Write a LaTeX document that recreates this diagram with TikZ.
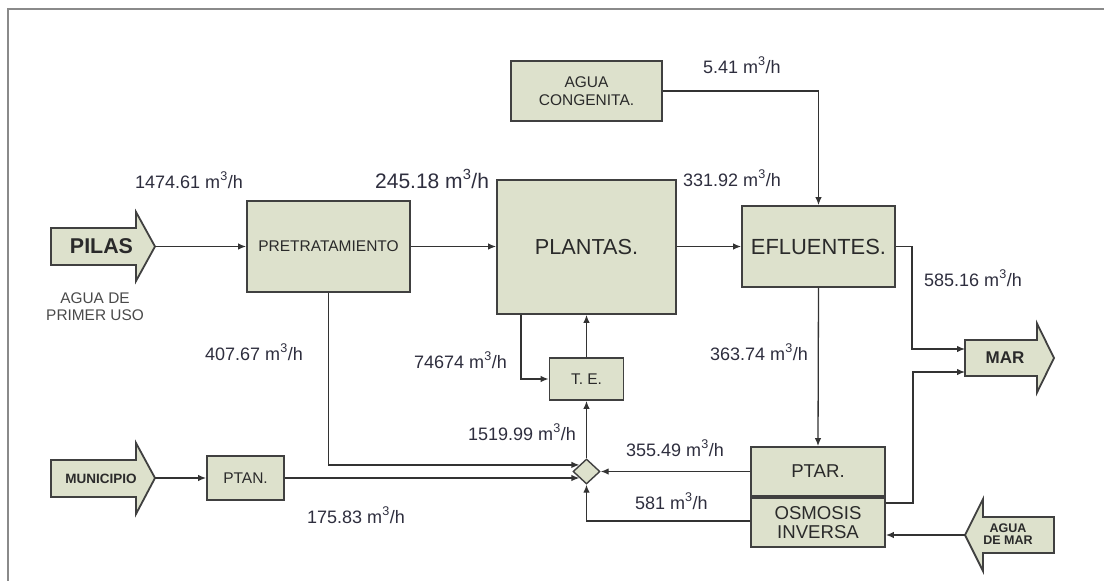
\documentclass[tikz,border=0pt]{standalone}
\usepackage{fontspec}
\setmainfont{Liberation Sans}
\usetikzlibrary{arrows.meta,shapes.geometric,calc}
\definecolor{boxfill}{HTML}{DDE1CC}
\definecolor{boxline}{HTML}{404040}
\definecolor{lblcol}{HTML}{2E2E3E}
\definecolor{txtcol}{HTML}{2A2A2A}
\definecolor{framecol}{HTML}{8A8A8A}
\newcommand{\fs}[1]{\fontsize{#1}{#1}\selectfont}
\newcommand{\mh}{m\textsuperscript{\raisebox{0.15em}{3}}/h}
\tikzset{
  box/.style={draw=boxline, line width=1.8pt, fill=boxfill, inner sep=0pt,
    text=txtcol, align=center},
  bigarrow/.style={draw=boxline, line width=1.8pt, fill=boxfill, line join=miter},
  flow/.style={draw=black!80, line width=1.3pt, -{Latex[length=8pt,width=6.5pt]}},
  lbl/.style={font=\fs{18}, text=lblcol, inner sep=0pt, anchor=west},
  small/.style={font=\fs{15.5}},
  large/.style={font=\fs{21.7}},
}
\begin{document}
\begin{tikzpicture}[x=1pt,y=-1pt]
\useasboundingbox (0,0) rectangle (1104,581);
\fill[white] (0,0) rectangle (1104,581);
% frame
\draw[framecol, line width=2.6pt] (8,581) -- (8,9) -- (1104,9);

% big arrows
\draw[bigarrow] (51,228) -- (136,228) -- (136,212) -- (155,246.5) -- (136,281) -- (136,265) -- (51,265) -- cycle;
\node[font=\fs{21.4}\bfseries, text=txtcol] (pilas) at (101.5,246.5) {PILAS};
\coordinate (pilastip) at (155,246.5);
\node[font=\fs{15.4}, text=txtcol!85, align=center, inner sep=0pt] (primer) at (95,306.5)
  {AGUA DE\\[1pt]PRIMER USO};

\draw[bigarrow] (51,460) -- (136,460) -- (136,443) -- (155,478) -- (136,514) -- (136,497) -- (51,497) -- cycle;
\node[font=\fs{13.5}\bfseries, text=txtcol] (muni) at (101,478.5) {MUNICIPIO};
\coordinate (munitip) at (155,478);

\draw[bigarrow] (965,340) -- (1037,340) -- (1037,323.5) -- (1054,358) -- (1037,392.5) -- (1037,376) -- (965,376) -- cycle;
\node[font=\fs{17}\bfseries, text=txtcol] (mar) at (1005,358) {MAR};
\coordinate (mar1) at (965,349);
\coordinate (mar2) at (965,372);

\draw[bigarrow] (1054,517) -- (983,517) -- (983,499) -- (965,535) -- (983,571) -- (983,553) -- (1054,553) -- cycle;
\node[font=\fs{12.5}\bfseries, text=txtcol, align=center, inner sep=0pt] (adm) at (1008,534) {AGUA\\DE MAR};
\coordinate (admtip) at (965,535);

% boxes
\node[box, small, minimum width=163pt, minimum height=91pt] (pre) at (328.5,246.5) {PRETRATAMIENTO};
\node[box, large, minimum width=179pt, minimum height=134pt] (plan) at (586.5,247) {PLANTAS.};
\node[box, large, font=\fs{21.9}, minimum width=153pt, minimum height=81pt] (efl) at (818.5,246.5) {EFLUENTES.};
\node[box, small, minimum width=151pt, minimum height=60pt] (cong) at (586.5,91) {AGUA\\[2pt]CONGENITA.};
\node[box, small, minimum width=74pt, minimum height=42pt] (te) at (586.5,379) {T. E.};
\node[box, small, minimum width=77pt, minimum height=44pt] (ptan) at (245.5,478) {PTAN.};
\node[box, font=\fs{18.6}, minimum width=134pt, minimum height=49pt] (ptar) at (818,471.5) {PTAR.};
\node[box, font=\fs{18.6}, minimum width=134pt, minimum height=49pt] (osm) at (818,522.5) {OSMOSIS\\[1pt]INVERSA};
\node[draw=boxline, line width=1.4pt, fill=boxfill, diamond, inner sep=0pt,
  minimum width=27pt, minimum height=25pt] (dia) at (586.5,471.5) {};

% connectors
\draw[flow] (pilastip) -- (pre.west |- pilastip);
\draw[flow] (pre.east) -- (pre.east -| plan.west);
\draw[flow] (plan.east |- pre.east) -- (pre.east -| efl.west);
\draw[flow] (cong.east) -| (efl.north);
\draw[flow] (efl.east) -- ++(16,0) |- (mar1);
\draw[flow] ($(osm.north east)+(0,6)$) -- ++(27,0) |- (mar2);
\draw[flow] (efl.south) -- (ptar.north);
\draw[flow] (admtip) -- (osm.east |- admtip);
\draw[flow] (ptar.west) -- (dia.east);
\draw[flow] ($(osm.west)+(0,-1.5)$) -| (dia.south);
\draw[flow] (dia.north) -- (te.south);
\draw[flow] (te.north) -- (plan.south -| te.north);
\draw[flow] ($(plan.south west)+(25,0)$) |- (te.west);
\draw[flow] (pre.south) |- (dia.north west);
\draw[flow] (ptan.east) -- (ptan.east -| dia.south west);
\draw[flow] (munitip) -- (ptan.west |- munitip);

% labels
\node[lbl] (l1) at (135,180) {1474.61 \mh};
\node[lbl, font=\fs{21}] (l2) at (375,179) {245.18 \mh};
\node[lbl] (l3) at (683,178) {331.92 \mh};
\node[lbl] (l4) at (703,65) {5.41 \mh};
\node[lbl] (l5) at (924,278) {585.16 \mh};
\node[lbl] (l6) at (205,352) {407.67 \mh};
\node[lbl] (l7) at (414,360) {74674 \mh};
\node[lbl] (l8) at (710,352) {363.74 \mh};
\node[lbl] (l9) at (468,432) {1519.99 \mh};
\node[lbl] (l10) at (626,448) {355.49 \mh};
\node[lbl] (l11) at (635,501) {581 \mh};
\node[lbl] (l12) at (307,515) {175.83 \mh};
\end{tikzpicture}
\end{document}
